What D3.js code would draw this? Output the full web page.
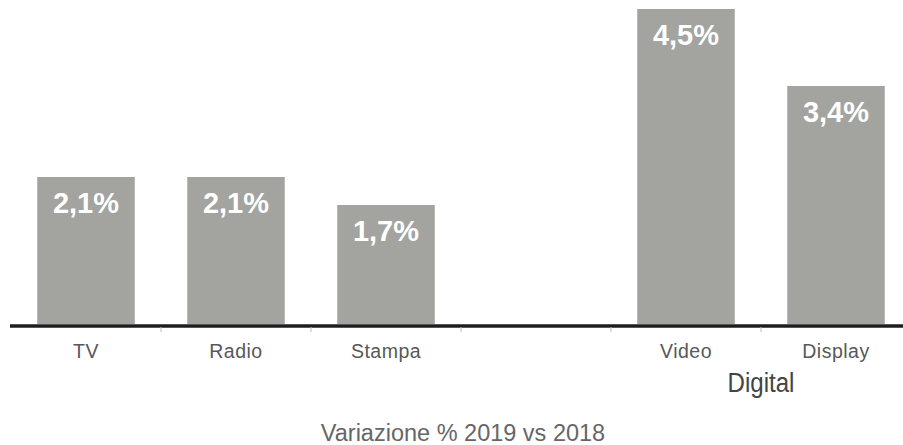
<!DOCTYPE html>
<html>
<head>
<meta charset="utf-8">
<script src="https://cdn.jsdelivr.net/npm/d3@7"></script>
<style>
  html, body { margin: 0; padding: 0; background: #fff; }
  svg { display: block; }
</style>
</head>
<body>
<svg id="chart" width="903" height="445"></svg>
<script>
// Spending change by medium, 2019 vs 2018 (%)
const categories = ["TV", "Radio", "Stampa", "", "Video", "Display"];
const values = [2.1, 2.1, 1.7, null, 4.5, 3.4];
const valueLabels = ["2,1%", "2,1%", "1,7%", "", "4,5%", "3,4%"];
const groupLabel = "Digital";
const groupMembers = ["Video", "Display"];
const title = "Variazione % 2019 vs 2018";

const width = 903, height = 445;
const svg = d3.select("#chart");

// one slot per category; the blank slot keeps the gap before the digital group
const slots = categories.map((c, i) => "slot" + i);

const x = d3.scaleBand()
  .domain(slots)
  .range([11, 911])
  .paddingInner(0.35)
  .paddingOuter(0.175);

const y = d3.scaleLinear()
  .domain([0, 4.5])
  .range([324, 9]);

const data = categories.map((c, i) => ({ slot: slots[i], name: c, value: values[i], label: valueLabels[i] }))
  .filter(d => d.value != null);

// bars
svg.append("g")
  .selectAll("rect")
  .data(data)
  .join("rect")
  .attr("x", d => x(d.slot))
  .attr("y", d => y(d.value))
  .attr("width", x.bandwidth())
  .attr("height", d => y(0) - y(d.value))
  .attr("fill", "#a3a39f");

// value labels inside the bars
svg.append("g")
  .selectAll("text")
  .data(data)
  .join("text")
  .attr("x", d => x(d.slot) + x.bandwidth() / 2)
  .attr("y", d => y(d.value) + 36)
  .attr("text-anchor", "middle")
  .attr("font-family", "'Liberation Sans', Arial, sans-serif")
  .attr("font-weight", "bold")
  .attr("font-size", 29)
  .attr("fill", "#ffffff")
  .text(d => d.label);

// baseline
svg.append("line")
  .attr("x1", 10).attr("x2", width)
  .attr("y1", y(0) + 2).attr("y2", y(0) + 2)
  .attr("stroke", "#1e1e1e")
  .attr("stroke-width", 3.5);

// small ticks on the slot boundaries
const step = x.step();
svg.append("g")
  .selectAll("line")
  .data(slots.slice(1))
  .join("line")
  .attr("x1", d => x(d) - step * x.paddingInner() / 2)
  .attr("x2", d => x(d) - step * x.paddingInner() / 2)
  .attr("y1", y(0) + 3)
  .attr("y2", y(0) + 8)
  .attr("stroke", "#bbbbbb")
  .attr("stroke-width", 1);

// category names
svg.append("g")
  .selectAll("text")
  .data(data)
  .join("text")
  .attr("x", d => x(d.slot) + x.bandwidth() / 2)
  .attr("y", y(0) + 34)
  .attr("text-anchor", "middle")
  .attr("font-family", "'Liberation Sans', Arial, sans-serif")
  .attr("font-size", 19.5)
  .attr("letter-spacing", 0.5)
  .attr("fill", "#585858")
  .text(d => d.name);

// group label centred under its members, drawn condensed
const memberSlots = groupMembers.map(m => slots[categories.indexOf(m)]);
const gx0 = x(memberSlots[0]);
const gx1 = x(memberSlots[memberSlots.length - 1]) + x.bandwidth();
svg.append("text")
  .attr("transform", `translate(${(gx0 + gx1) / 2},392) scale(0.86,1)`)
  .attr("text-anchor", "middle")
  .attr("font-family", "'Liberation Sans', Arial, sans-serif")
  .attr("font-size", 28)
  .attr("fill", "#444444")
  .text(groupLabel);

// chart title below
svg.append("text")
  .attr("x", 463)
  .attr("y", 441)
  .attr("text-anchor", "middle")
  .attr("font-family", "'Liberation Sans', Arial, sans-serif")
  .attr("font-size", 23.5)
  .attr("fill", "#666666")
  .text(title);
</script>
</body>
</html>
